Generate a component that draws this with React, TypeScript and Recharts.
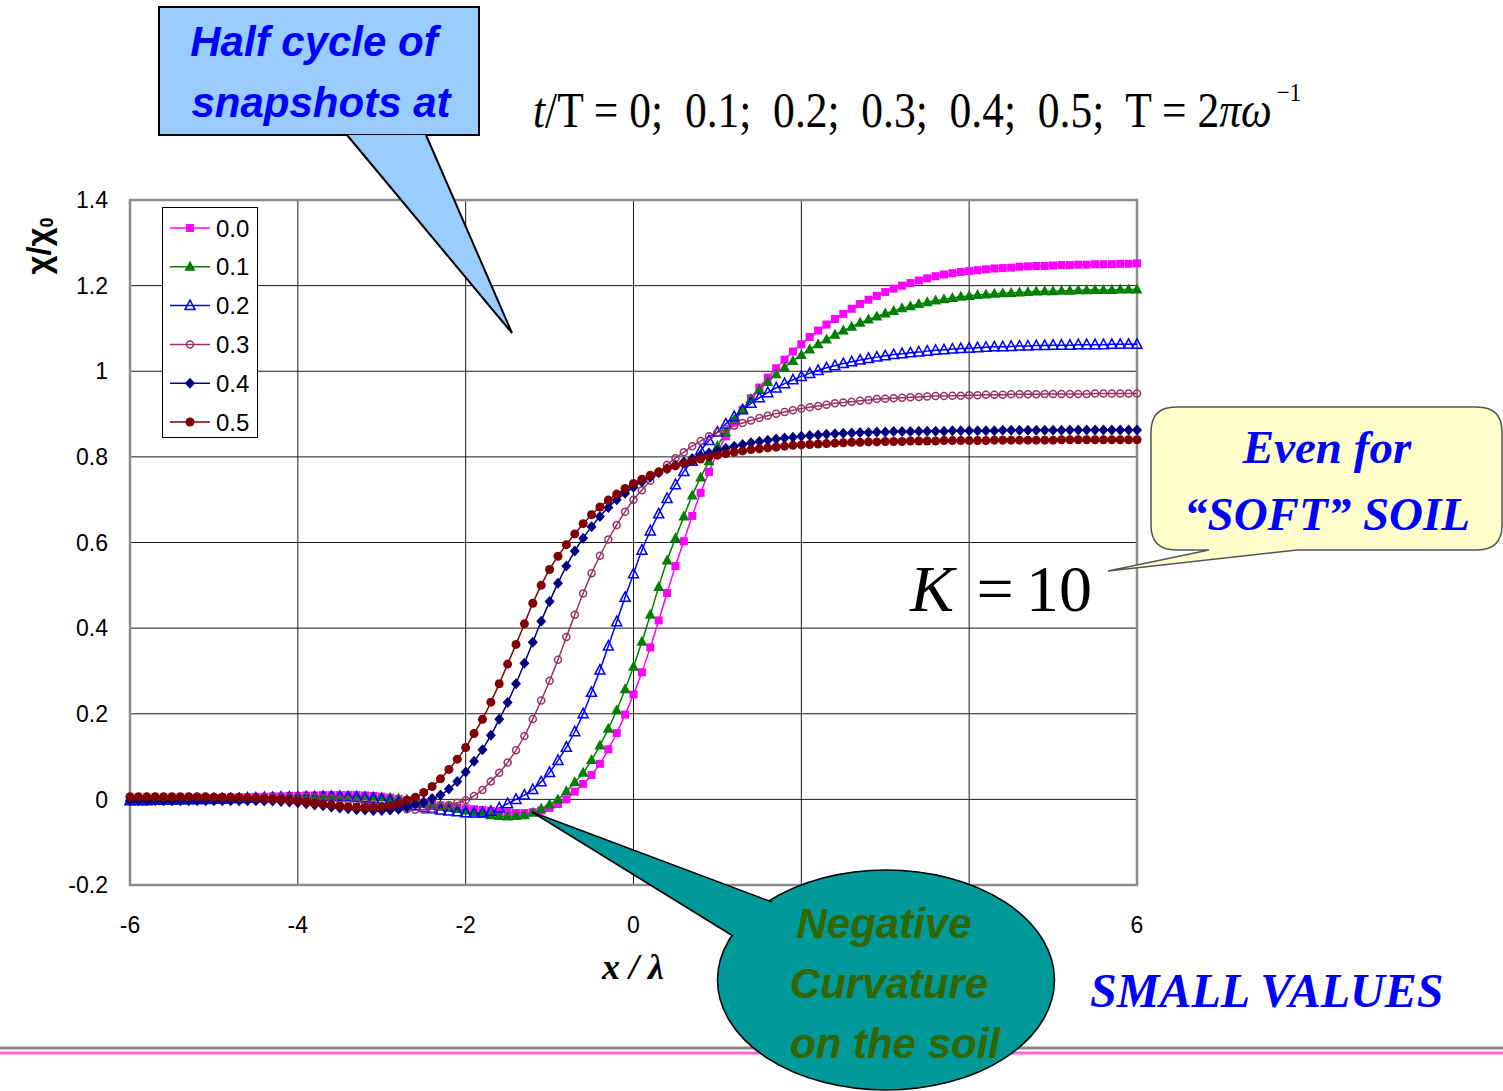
import { LineChart, Line, XAxis, YAxis, CartesianGrid, ReferenceArea } from "recharts";

// x / lambda, sampled every 0.1 from -6 to 6
const X_POS = Array.from({ length: 121 }, (_, i) => (i - 60) / 10);

// chi / chi0 snapshots, one array per t/T
const T00 = [
  0, 0, 0, 0.001, 0.001, 0.001, 0.002, 0.002, 0.002, 0.003,
  0.003, 0.004, 0.004, 0.005, 0.005, 0.006, 0.006, 0.007, 0.007, 0.008,
  0.008, 0.009, 0.009, 0.01, 0.01, 0.01, 0.01, 0.01, 0.009, 0.008,
  0.006, 0.004, 0.001, -0.002, -0.005, -0.008, -0.011, -0.014, -0.017, -0.019,
  -0.021, -0.023, -0.025, -0.027, -0.029, -0.031, -0.032, -0.032, -0.03, -0.026,
  -0.02, -0.011, 0.0, 0.018, 0.036, 0.057, 0.083, 0.117, 0.155, 0.198,
  0.245, 0.297, 0.355, 0.418, 0.482, 0.545, 0.603, 0.662, 0.716, 0.765,
  0.81, 0.848, 0.88, 0.91, 0.937, 0.962, 0.985, 1.007, 1.027, 1.046,
  1.063, 1.08, 1.095, 1.109, 1.122, 1.134, 1.146, 1.157, 1.167, 1.176,
  1.185, 1.193, 1.2, 1.206, 1.212, 1.217, 1.222, 1.226, 1.229, 1.232,
  1.234, 1.236, 1.238, 1.24, 1.241, 1.242, 1.244, 1.245, 1.246, 1.246,
  1.247, 1.248, 1.248, 1.249, 1.249, 1.25, 1.25, 1.25, 1.251, 1.251,
  1.252,
];

const T01 = [
  0, 0, 0, 0, 0.001, 0.001, 0.001, 0.002, 0.002, 0.002,
  0.003, 0.003, 0.003, 0.004, 0.004, 0.004, 0.005, 0.005, 0.005, 0.006,
  0.006, 0.006, 0.006, 0.007, 0.007, 0.007, 0.007, 0.007, 0.007, 0.006,
  0.005, 0.004, 0.002, 0.0, -0.003, -0.006, -0.01, -0.014, -0.018, -0.022,
  -0.026, -0.03, -0.034, -0.037, -0.039, -0.04, -0.039, -0.037, -0.031, -0.022,
  -0.012, 0.0, 0.019, 0.04, 0.062, 0.092, 0.126, 0.165, 0.208, 0.257,
  0.31, 0.368, 0.431, 0.496, 0.558, 0.61, 0.661, 0.71, 0.752, 0.79,
  0.825, 0.857, 0.886, 0.912, 0.935, 0.956, 0.975, 0.993, 1.009, 1.024,
  1.038, 1.051, 1.063, 1.074, 1.085, 1.095, 1.104, 1.113, 1.121, 1.128,
  1.135, 1.141, 1.147, 1.152, 1.157, 1.161, 1.165, 1.168, 1.171, 1.174,
  1.176, 1.178, 1.179, 1.181, 1.182, 1.183, 1.184, 1.185, 1.186, 1.187,
  1.187, 1.188, 1.188, 1.189, 1.189, 1.19, 1.19, 1.19, 1.191, 1.191,
  1.191,
];

const T02 = [
  -0.003, -0.003, -0.003, -0.002, -0.002, -0.002, -0.001, -0.001, 0, 0,
  0.001, 0.001, 0.002, 0.002, 0.003, 0.003, 0.004, 0.004, 0.005, 0.005,
  0.005, 0.006, 0.006, 0.007, 0.007, 0.007, 0.006, 0.005, 0.004, 0.002,
  0.0, -0.003, -0.007, -0.011, -0.015, -0.019, -0.022, -0.025, -0.027, -0.029,
  -0.031, -0.032, -0.031, -0.028, -0.02, -0.01, 0.0, 0.01, 0.023, 0.041,
  0.063, 0.091, 0.122, 0.158, 0.2, 0.25, 0.302, 0.358, 0.415, 0.472,
  0.527, 0.582, 0.627, 0.667, 0.703, 0.735, 0.766, 0.79, 0.815, 0.838,
  0.858, 0.877, 0.894, 0.91, 0.925, 0.938, 0.95, 0.961, 0.971, 0.98,
  0.988, 0.995, 1.002, 1.008, 1.013, 1.018, 1.022, 1.026, 1.03, 1.033,
  1.036, 1.039, 1.041, 1.043, 1.045, 1.047, 1.049, 1.05, 1.052, 1.053,
  1.054, 1.055, 1.056, 1.057, 1.057, 1.058, 1.059, 1.059, 1.06, 1.06,
  1.061, 1.061, 1.061, 1.062, 1.062, 1.062, 1.062, 1.063, 1.063, 1.063,
  1.063,
];

const T03 = [
  0, 0, 0, 0, 0.001, 0.001, 0.001, 0.001, 0.001, 0.002,
  0.002, 0.002, 0.003, 0.003, 0.004, 0.004, 0.005, 0.005, 0.006, 0.006,
  0.006, 0.006, 0.005, 0.004, 0.002, 0.0, -0.002, -0.005, -0.008, -0.012,
  -0.015, -0.018, -0.021, -0.023, -0.024, -0.024, -0.022, -0.017, -0.013, -0.008,
  -0.002, 0.008, 0.022, 0.042, 0.062, 0.086, 0.115, 0.148, 0.188, 0.231,
  0.277, 0.326, 0.379, 0.431, 0.481, 0.528, 0.569, 0.607, 0.641, 0.672,
  0.7, 0.722, 0.744, 0.763, 0.781, 0.797, 0.811, 0.825, 0.837, 0.848,
  0.857, 0.865, 0.873, 0.879, 0.885, 0.891, 0.896, 0.901, 0.905, 0.909,
  0.913, 0.916, 0.919, 0.922, 0.925, 0.927, 0.929, 0.931, 0.933, 0.935,
  0.936, 0.937, 0.938, 0.939, 0.94, 0.941, 0.942, 0.942, 0.943, 0.943,
  0.944, 0.944, 0.945, 0.945, 0.945, 0.946, 0.946, 0.946, 0.946, 0.947,
  0.947, 0.947, 0.947, 0.947, 0.947, 0.948, 0.948, 0.948, 0.948, 0.948,
  0.948,
];

const T04 = [
  -0.003, -0.003, -0.003, -0.003, -0.003, -0.003, -0.003, -0.003, -0.003, -0.003,
  -0.003, -0.003, -0.003, -0.003, -0.003, -0.003, -0.004, -0.004, -0.005, -0.006,
  -0.008, -0.01, -0.013, -0.015, -0.018, -0.02, -0.022, -0.024, -0.025, -0.026,
  -0.026, -0.025, -0.023, -0.019, -0.012, -0.006, 0.002, 0.01, 0.024, 0.042,
  0.064, 0.089, 0.116, 0.15, 0.187, 0.226, 0.27, 0.318, 0.367, 0.416,
  0.462, 0.505, 0.545, 0.58, 0.61, 0.637, 0.661, 0.682, 0.7, 0.715,
  0.729, 0.742, 0.753, 0.763, 0.772, 0.781, 0.788, 0.796, 0.803, 0.809,
  0.815, 0.82, 0.825, 0.829, 0.833, 0.836, 0.839, 0.842, 0.844, 0.846,
  0.848, 0.85, 0.851, 0.853, 0.854, 0.855, 0.856, 0.857, 0.857, 0.858,
  0.858, 0.859, 0.859, 0.859, 0.86, 0.86, 0.86, 0.86, 0.861, 0.861,
  0.861, 0.861, 0.861, 0.861, 0.862, 0.862, 0.862, 0.862, 0.862, 0.862,
  0.862, 0.862, 0.863, 0.863, 0.863, 0.863, 0.863, 0.863, 0.863, 0.863,
  0.863,
];

const T05 = [
  0.006, 0.006, 0.006, 0.006, 0.006, 0.006, 0.006, 0.006, 0.006, 0.006,
  0.005, 0.005, 0.005, 0.004, 0.004, 0.003, 0.002, 0.001, 0.0, -0.002,
  -0.004, -0.006, -0.009, -0.011, -0.013, -0.015, -0.017, -0.018, -0.019, -0.019,
  -0.018, -0.015, -0.01, -0.002, 0.005, 0.016, 0.03, 0.048, 0.07, 0.094,
  0.121, 0.154, 0.187, 0.227, 0.27, 0.316, 0.362, 0.41, 0.458, 0.5,
  0.537, 0.568, 0.595, 0.62, 0.644, 0.665, 0.683, 0.699, 0.713, 0.726,
  0.738, 0.748, 0.757, 0.765, 0.772, 0.779, 0.785, 0.79, 0.795, 0.8,
  0.804, 0.808, 0.811, 0.814, 0.817, 0.819, 0.821, 0.823, 0.825, 0.827,
  0.828, 0.829, 0.83, 0.831, 0.832, 0.833, 0.834, 0.834, 0.835, 0.835,
  0.836, 0.836, 0.836, 0.837, 0.837, 0.837, 0.837, 0.838, 0.838, 0.838,
  0.838, 0.838, 0.838, 0.839, 0.839, 0.839, 0.839, 0.839, 0.839, 0.839,
  0.839, 0.84, 0.84, 0.84, 0.84, 0.84, 0.84, 0.84, 0.84, 0.84,
  0.84,
];

const X_TICKS = [-6, -4, -2, 0, 2, 4, 6];
// labels at 2 and 4 sit under the teal bubble
const X_HIDDEN = [2, 4];
const Y_TICKS = [-0.2, 0, 0.2, 0.4, 0.6, 0.8, 1, 1.2, 1.4];

type Shape = "square" | "triangle" | "triangleOpen" | "circleOpen" | "diamond" | "circle";

const SERIES: { key: string; name: string; color: string; shape: Shape; values: number[] }[] = [
  { key: "s0", name: "0.0", color: "#FF00FF", shape: "square", values: T00 },
  { key: "s1", name: "0.1", color: "#008000", shape: "triangle", values: T01 },
  { key: "s2", name: "0.2", color: "#0000FF", shape: "triangleOpen", values: T02 },
  { key: "s3", name: "0.3", color: "#993366", shape: "circleOpen", values: T03 },
  { key: "s4", name: "0.4", color: "#000080", shape: "diamond", values: T04 },
  { key: "s5", name: "0.5", color: "#800000", shape: "circle", values: T05 },
];

const rows = X_POS.map((x, i) => {
  const row: Record<string, number> = { x };
  SERIES.forEach((s) => (row[s.key] = s.values[i]));
  return row;
});

const SANS = "'Liberation Sans', Arial, sans-serif";
const SERIF = "'Liberation Serif', 'Times New Roman', serif";

function Marker({ shape, cx, cy, color }: { shape: Shape; cx: number; cy: number; color: string }) {
  switch (shape) {
    case "square":
      return <rect x={cx - 4} y={cy - 4} width={8} height={8} fill={color} />;
    case "triangle":
      return <path d={`M${cx},${cy - 6}L${cx + 5.5},${cy + 4}L${cx - 5.5},${cy + 4}Z`} fill={color} />;
    case "triangleOpen":
      return (
        <path
          d={`M${cx},${cy - 5.5}L${cx + 5},${cy + 4}L${cx - 5},${cy + 4}Z`}
          fill="none"
          stroke={color}
          strokeWidth={1.5}
        />
      );
    case "circleOpen":
      return <circle cx={cx} cy={cy} r={3.5} fill="none" stroke={color} strokeWidth={1.5} />;
    case "diamond":
      return <path d={`M${cx},${cy - 5.5}L${cx + 5},${cy}L${cx},${cy + 5.5}L${cx - 5},${cy}Z`} fill={color} />;
    default:
      return <circle cx={cx} cy={cy} r={4.5} fill={color} />;
  }
}

function LegendBox() {
  return (
    <g>
      <rect x={162.5} y={207.5} width={95} height={230} fill="#fff" stroke="#000" strokeWidth={1} />
      {SERIES.map((s, i) => {
        const y = 228 + i * 38.8;
        return (
          <g key={s.key}>
            <line x1={170} x2={210} y1={y} y2={y} stroke={s.color} strokeWidth={1.5} />
            <Marker shape={s.shape} cx={190} cy={y} color={s.color} />
            <text x={216} y={y + 8.5} fontSize={24} fontFamily={SANS} fill="#000">
              {s.name}
            </text>
          </g>
        );
      })}
    </g>
  );
}

function Notes() {
  return (
    <svg
      width={1503}
      height={1091}
      style={{ position: "absolute", left: 0, top: 0, pointerEvents: "none" }}
    >
      <LegendBox />

      {/* axis titles */}
      <text
        transform="translate(50,246) rotate(-90)"
        textAnchor="middle"
        fontFamily={SANS}
        fontWeight="bold"
        fontSize={33}
        fill="#000"
      >
        χ/χ<tspan fontSize={18} dy={3}>0</tspan>
      </text>
      <text x={633} y={979} textAnchor="middle" fontFamily={SERIF} fontStyle="italic" fontWeight="bold" fontSize={36}>
        x / λ
      </text>

      {/* title formula, exponent kept in the same run */}
      <text
        x={533}
        y={127}
        fontFamily={SERIF}
        fontSize={50}
        textLength={768}
        lengthAdjust="spacingAndGlyphs"
        style={{ whiteSpace: "pre" }}
      >
        <tspan fontStyle="italic">t</tspan>/T = 0;  0.1;  0.2;  0.3;  0.4;  0.5;  T = 2<tspan fontStyle="italic">πω</tspan>
        <tspan fontSize={26} dx={6} dy={-26}>−1</tspan>
      </text>

      {/* blue callout */}
      <rect x={159} y={7} width={320} height={128} fill="#99CCFF" stroke="#000" strokeWidth={2} />
      <path d="M347,135 L512,333 L426,135" fill="#99CCFF" stroke="#000" strokeWidth={2} />
      <g fontFamily={SANS} fontStyle="italic" fontWeight="bold" fontSize={42} fill="#0000FF" textAnchor="middle">
        <text x={314} y={56}>Half cycle of</text>
        <text x={321} y={117}>snapshots at</text>
      </g>

      {/* yellow callout */}
      <path
        d="M1176,407 H1477 Q1502,407 1502,432 V525 Q1502,550 1477,550 H1297 L1108,571 L1209,550 H1176 Q1151,550 1151,525 V432 Q1151,407 1176,407 Z"
        fill="#FFFFCC"
        stroke="#555"
        strokeWidth={1.5}
      />
      <g fontFamily={SERIF} fontStyle="italic" fontWeight="bold" fontSize={47} fill="#0000FF" textAnchor="middle">
        <text x={1327} y={463}>Even for</text>
        <text x={1327} y={530}>“SOFT” SOIL</text>
      </g>

      {/* K = 10 */}
      <g fontFamily={SERIF} fontSize={66} fill="#000">
        <text x={910} y={611} fontStyle="italic">K</text>
        <text x={995} y={611} textAnchor="middle">=</text>
        <text x={1026} y={611}>10</text>
      </g>

      <text x={1090} y={1007} fontFamily={SERIF} fontStyle="italic" fontWeight="bold" fontSize={48} fill="#0000FF">
        SMALL VALUES
      </text>

      {/* footer rules */}
      <line x1={0} x2={1503} y1={1048} y2={1048} stroke="#888" strokeWidth={3} />
      <line x1={0} x2={1503} y1={1053} y2={1053} stroke="#FF66CC" strokeWidth={3} />

      {/* teal callout */}
      <ellipse cx={886} cy={980} rx={168.5} ry={110} fill="#009999" stroke="#000" strokeWidth={1.5} />
      <path d="M772,902 L532,812 L733,936" fill="#009999" stroke="#000" strokeWidth={1.5} />
      <g fontFamily={SANS} fontStyle="italic" fontWeight="bold" fontSize={42} fill="#336600" textAnchor="middle">
        <text x={884} y={938}>Negative</text>
        <text x={889} y={998}>Curvature</text>
        <text x={895} y={1058}>on the soil</text>
      </g>
    </svg>
  );
}

export default function App() {
  return (
    <div style={{ position: "absolute", left: 0, top: 0, width: 1503, height: 1091, background: "#fff" }}>
      <LineChart
        width={1503}
        height={1091}
        data={rows}
        margin={{ top: 200, right: 366, bottom: 166, left: 70 }}
      >
        <CartesianGrid stroke="#1a1a1a" strokeWidth={1} />
        <XAxis
          type="number"
          dataKey="x"
          domain={[-6, 6]}
          ticks={X_TICKS}
          height={40}
          tickSize={0}
          tickMargin={32}
          axisLine={false}
          tickLine={false}
          tickFormatter={(v: number) => (X_HIDDEN.includes(v) ? "" : String(v))}
          tick={{ fill: "#000", fontSize: 23, fontFamily: SANS }}
        />
        <YAxis
          type="number"
          domain={[-0.2, 1.4]}
          ticks={Y_TICKS}
          width={60}
          tickSize={0}
          tickMargin={22}
          axisLine={false}
          tickLine={false}
          tickFormatter={(v: number) => String(v)}
          tick={{ fill: "#000", fontSize: 23, fontFamily: SANS }}
        />
        <ReferenceArea x1={-6} x2={6} y1={-0.2} y2={1.4} fill="none" stroke="#8c8c8c" strokeWidth={2.5} />
        {SERIES.map((s) => (
          <Line
            key={s.key}
            dataKey={s.key}
            type="monotone"
            stroke={s.color}
            strokeWidth={1.5}
            isAnimationActive={false}
            activeDot={false}
            dot={(p: any) => (
              <Marker key={`${s.key}-${p.index}`} shape={s.shape} cx={p.cx} cy={p.cy} color={s.color} />
            )}
          />
        ))}
      </LineChart>
      <Notes />
    </div>
  );
}
